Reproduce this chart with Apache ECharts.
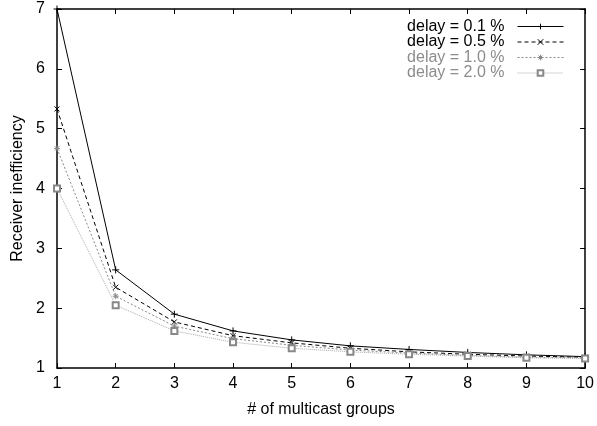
<!DOCTYPE html>
<html>
<head>
<meta charset="utf-8">
<script src="https://cdn.jsdelivr.net/npm/echarts@6/dist/echarts.min.js"></script>
<style>
    html, body { margin: 0; padding: 0; background: #fff; }
    #chartBox { width: 597px; height: 426px; }
</style>
</head>
<body>
<div id="chartBox"></div>
<script>
// data
var groups = [1, 2, 3, 4, 5, 6, 7, 8, 9, 10];
var delay01 = [7.0, 2.64, 1.90, 1.62, 1.47, 1.37, 1.31, 1.26, 1.22, 1.19];
var delay05 = [5.33, 2.35, 1.77, 1.54, 1.42, 1.33, 1.27, 1.23, 1.20, 1.18];
var delay10 = [4.67, 2.20, 1.70, 1.49, 1.38, 1.30, 1.25, 1.21, 1.18, 1.17];
var delay20 = [4.00, 2.05, 1.62, 1.43, 1.33, 1.27, 1.23, 1.20, 1.17, 1.16];
var seriesNames = ['delay = 0.1 %', 'delay = 0.5 %', 'delay = 1.0 %', 'delay = 2.0 %'];

function pairs(ys) {
    return groups.map(function (x, i) { return [x, ys[i]]; });
}

var plus = 'path://M5,0L5,10M0,5L10,5';
var cross = 'path://M0,0L10,10M10,0L0,10';
var star = 'path://M5,0L5,10M0,5L10,5M1.5,1.5L8.5,8.5M8.5,1.5L1.5,8.5';

// per-series look: colour of line, colour of marker, dash, marker
var looks = [
    { line: '#000', mark: '#000', dash: 'solid', symbol: plus, size: 7, text: '#000' },
    { line: '#000', mark: '#000', dash: [4, 3], symbol: cross, size: 5, text: '#000' },
    { line: '#888', mark: '#888', dash: [2, 2], symbol: star, size: 6, text: '#8c8c8c' },
    { line: '#aaa', mark: '#888', dash: [1, 1], symbol: 'emptyRect', size: 6, text: '#8c8c8c' }
];
var values = [delay01, delay05, delay10, delay20];

var chartDom = document.getElementById('chartBox');
var myChart = echarts.init(chartDom);

var tickStyle = { show: true, inside: true, length: 5, lineStyle: { color: '#000', width: 1 } };
var frameLine = { show: true, lineStyle: { color: '#000', width: 1.5 } };
var font = 'Liberation Sans, Arial, sans-serif';

var option = {
    animation: false,
    backgroundColor: '#fff',
    grid: { left: 57, right: 9, top: 9, bottom: 58 },
    legend: {
        orient: 'vertical',
        right: 28,
        top: 13,
        align: 'right',
        itemWidth: 46,
        itemHeight: 7,
        itemGap: -1.5,
        textStyle: { fontSize: 16, lineHeight: 17, fontFamily: font, padding: [0, 8, 0, 0] },
        data: seriesNames.map(function (n, i) {
            var lk = looks[i];
            return {
                name: n,
                textStyle: { color: lk.text },
                lineStyle: { width: 1, color: lk.line, type: lk.dash },
                itemStyle: { color: lk.symbol === 'emptyRect' ? lk.mark : 'none', borderColor: lk.mark, borderWidth: 1 }
            };
        })
    },
    xAxis: [
        {
            type: 'value', min: 1, max: 10, interval: 1,
            name: '# of multicast groups', nameLocation: 'middle', nameGap: 34,
            nameTextStyle: { fontSize: 16, color: '#000', fontFamily: font },
            axisLine: frameLine, axisTick: tickStyle, splitLine: { show: false },
            axisLabel: { fontSize: 16, color: '#000', fontFamily: font, margin: 8 }
        },
        {
            type: 'value', position: 'top', min: 1, max: 10, interval: 1,
            axisLine: frameLine, axisTick: tickStyle, splitLine: { show: false },
            axisLabel: { show: false }
        }
    ],
    yAxis: [
        {
            type: 'value', min: 1, max: 7, interval: 1,
            name: 'Receiver inefficiency', nameLocation: 'middle', nameGap: 31,
            nameTextStyle: { fontSize: 16, color: '#000', fontFamily: font },
            axisLine: frameLine, axisTick: tickStyle, splitLine: { show: false },
            axisLabel: { fontSize: 16, color: '#000', fontFamily: font, margin: 12 }
        },
        {
            type: 'value', position: 'right', min: 1, max: 7, interval: 1,
            axisLine: frameLine, axisTick: tickStyle, splitLine: { show: false },
            axisLabel: { show: false }
        }
    ],
    series: seriesNames.map(function (n, i) {
        var lk = looks[i];
        return {
            name: n, type: 'line', data: pairs(values[i]),
            symbol: lk.symbol, symbolSize: lk.size,
            lineStyle: { color: lk.line, width: 1, type: lk.dash },
            itemStyle: { color: lk.symbol === 'emptyRect' ? lk.mark : 'none', borderColor: lk.mark, borderWidth: 1 }
        };
    })
};
myChart.setOption(option);
</script>
</body>
</html>
